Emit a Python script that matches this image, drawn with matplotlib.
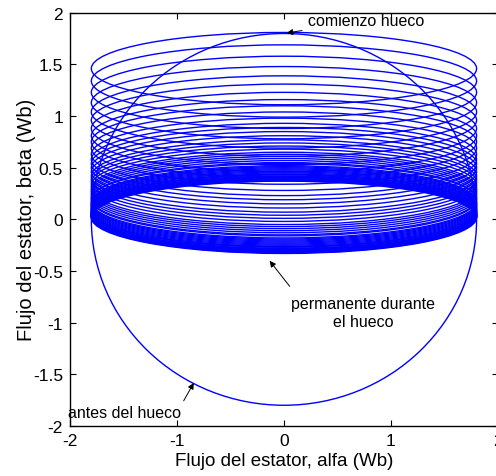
import matplotlib.pyplot as plt
from matplotlib.patches import Circle, Ellipse

plt.rcParams['font.family'] = ['Liberation Sans', 'DejaVu Sans']

# flux before the dip: circle of radius psi_pre
psi_pre = 1.8
# flux during the dip: elliptical loops, alpha/beta semi-axes
alpha_amp = 1.8
beta_amp = 0.35
# beta offset of each loop (decaying natural flux), one value per turn
loop_centers = [1.46, 1.34, 1.23, 1.13, 1.04, 0.96, 0.88, 0.81, 0.75, 0.69,
                0.63, 0.58, 0.54, 0.50, 0.46, 0.42, 0.39, 0.36, 0.33, 0.30,
                0.28, 0.26, 0.24, 0.22, 0.20, 0.19, 0.17, 0.16, 0.15, 0.14,
                0.13, 0.12, 0.11, 0.10, 0.09, 0.085, 0.08, 0.07, 0.065, 0.06,
                0.055, 0.05, 0.045, 0.04, 0.04, 0.035, 0.03, 0.03, 0.025, 0.02]

xticks = [-2, -1, 0, 1, 2]
xtick_labels = ['-2', '-1', '0', '1', '2']
yticks = [-2, -1.5, -1, -0.5, 0, 0.5, 1, 1.5, 2]
ytick_labels = ['-2', '-1.5', '-1', '-0.5', '0', '0.5', '1', '1.5', '2']

fig = plt.figure(figsize=(4.96, 4.77), dpi=100)
ax = fig.add_axes([0.141, 0.105, 0.863, 0.866])

ax.add_patch(Circle((0, 0), psi_pre, fill=False, color='#0000ff', lw=1.0))
for c in loop_centers:
    ax.add_patch(Ellipse((0, c), 2 * alpha_amp, 2 * beta_amp, fill=False,
                         color='#0000ff', lw=1.0))

ax.set_xlim(-2, 2)
ax.set_ylim(-2, 2)
ax.set_xticks(xticks)
ax.set_xticklabels(xtick_labels, fontsize=12.5)
ax.set_yticks(yticks)
ax.set_yticklabels(ytick_labels, fontsize=12.5)
ax.tick_params(axis='y', pad=5)
ax.tick_params(axis='x', pad=5)
ax.tick_params(direction='in', top=True, right=True, length=4, width=0.8)
for s in ax.spines.values():
    s.set_linewidth(1.0)

ax.set_xlabel('Flujo del estator, alfa (Wb)', fontsize=13.5, labelpad=3)
ax.set_ylabel('Flujo del estator, beta (Wb)', fontsize=14.5, labelpad=-2)

arrow = dict(arrowstyle='-|>', color='black', lw=0.7, mutation_scale=9)
ax.annotate('comienzo hueco', xy=(0, psi_pre), xytext=(0.22, 1.93),
            fontsize=11.5, va='center', ha='left', arrowprops=arrow)
ax.annotate('permanente durante\nel hueco', xy=(-0.15, -0.38), xytext=(0.74, -0.9),
            fontsize=11.5, va='center', ha='center', linespacing=1.25)
ax.annotate('', xy=(-0.15, -0.38), xytext=(0.07, -0.67), arrowprops=arrow)
ax.annotate('antes del hueco', xy=(-0.83, -1.56), xytext=(-1.49, -1.87),
            fontsize=11.5, va='center', ha='center')
ax.annotate('', xy=(-0.83, -1.56), xytext=(-0.95, -1.78), arrowprops=arrow)

fig.savefig('out.png', dpi=100)
